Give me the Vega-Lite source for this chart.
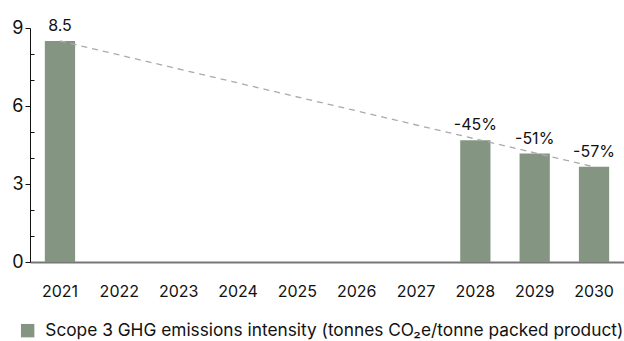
{
  "$schema": "https://vega.github.io/schema/vega-lite/v6.json",
  "autosize": {"type": "none"},
  "width": 594,
  "height": 234,
  "padding": {"left": 30, "top": 28, "right": 0, "bottom": 79},
  "background": "white",
  "config": {
    "view": {"stroke": null},
    "font": "Inter",
    "text": {"font": "Inter"}
  },
  "datasets": {
    "bars": [
      {"year": "2021", "value": 8.5, "label": "8.5", "series": "Scope 3 GHG emissions intensity (tonnes CO₂e/tonne packed product)"},
      {"year": "2022", "value": null, "label": "", "series": "Scope 3 GHG emissions intensity (tonnes CO₂e/tonne packed product)"},
      {"year": "2023", "value": null, "label": "", "series": "Scope 3 GHG emissions intensity (tonnes CO₂e/tonne packed product)"},
      {"year": "2024", "value": null, "label": "", "series": "Scope 3 GHG emissions intensity (tonnes CO₂e/tonne packed product)"},
      {"year": "2025", "value": null, "label": "", "series": "Scope 3 GHG emissions intensity (tonnes CO₂e/tonne packed product)"},
      {"year": "2026", "value": null, "label": "", "series": "Scope 3 GHG emissions intensity (tonnes CO₂e/tonne packed product)"},
      {"year": "2027", "value": null, "label": "", "series": "Scope 3 GHG emissions intensity (tonnes CO₂e/tonne packed product)"},
      {"year": "2028", "value": 4.68, "label": "-45%", "series": "Scope 3 GHG emissions intensity (tonnes CO₂e/tonne packed product)"},
      {"year": "2029", "value": 4.17, "label": "-51%", "series": "Scope 3 GHG emissions intensity (tonnes CO₂e/tonne packed product)"},
      {"year": "2030", "value": 3.66, "label": "-57%", "series": "Scope 3 GHG emissions intensity (tonnes CO₂e/tonne packed product)"}
    ],
    "trend": [
      {"year": "2021", "value": 8.5},
      {"year": "2030", "value": 3.66}
    ]
  },
  "encoding": {
    "x": {
      "field": "year",
      "type": "ordinal",
      "scale": {
        "domain": ["2021","2022","2023","2024","2025","2026","2027","2028","2029","2030"],
        "paddingInner": 0.49,
        "paddingOuter": 0.25
      },
      "axis": {
        "title": null,
        "labelAngle": 0,
        "ticks": false,
        "labelPadding": 21,
        "labelFontSize": 16,
        "labelColor": "#111",
        "labelFont": "Inter",
        "domainColor": "#777",
        "domainWidth": 2
      }
    },
    "y": {
      "field": "value",
      "type": "quantitative",
      "scale": {"domain": [0, 9], "nice": false},
      "axis": {
        "title": null,
        "values": [0,1,2,3,4,5,6,7,8,9],
        "grid": false,
        "labelExpr": "datum.value % 3 === 0 ? datum.label : ''",
        "tickSize": {"condition": {"test": "datum.value % 3 === 0", "value": 5}, "value": -4},
        "tickColor": "#111",
        "domainColor": "#111",
        "labelFontSize": 18,
        "labelFont": "Inter",
        "labelColor": "#111",
        "labelPadding": 2
      }
    }
  },
  "layer": [
    {
      "data": {"name": "bars"},
      "mark": {"type": "bar"},
      "encoding": {
        "color": {
          "field": "series",
          "type": "nominal",
          "scale": {"range": ["#849581"]},
          "legend": {
            "title": null,
            "orient": "none",
            "legendX": -11,
            "legendY": 294,
            "symbolType": "square",
            "symbolSize": 180,
            "symbolStrokeWidth": 0,
            "symbolOpacity": 1,
            "labelFontSize": 17.3,
            "labelFont": "Inter",
            "labelColor": "#111",
            "labelOffset": 9,
            "labelLimit": 700
          }
        }
      }
    },
    {
      "data": {"name": "trend"},
      "mark": {"type": "line", "color": "#aaaaaa", "strokeDash": [6, 5], "strokeWidth": 1.3},
      "encoding": {}
    },
    {
      "data": {"name": "bars"},
      "mark": {"type": "text", "baseline": "alphabetic", "dy": -10, "fontSize": 16, "font": "Inter", "color": "#111"},
      "encoding": {"text": {"field": "label"}}
    }
  ]
}
